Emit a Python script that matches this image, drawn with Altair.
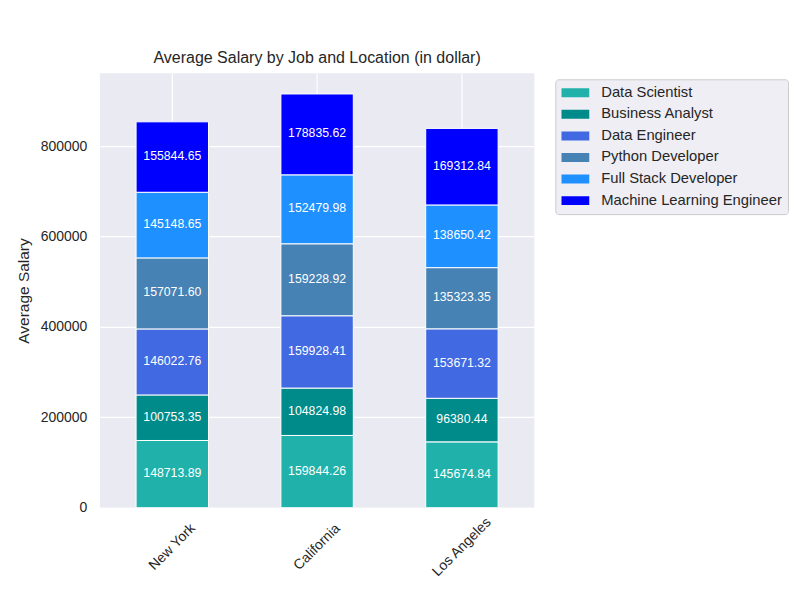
import altair as alt
import pandas as pd

locations = ["New York", "California", "Los Angeles"]
jobs = ["Data Scientist", "Business Analyst", "Data Engineer",
        "Python Developer", "Full Stack Developer", "Machine Learning Engineer"]
colors = ["#20B2AA", "#008B8B", "#4169E1", "#4682B4", "#1E90FF", "#0000FF"]

data_scientist = [148713.89, 159844.26, 145674.84]
business_analyst = [100753.35, 104824.98, 96380.44]
data_engineer = [146022.76, 159928.41, 153671.32]
python_developer = [157071.60, 159228.92, 135323.35]
full_stack_developer = [145148.65, 152479.98, 138650.42]
ml_engineer = [155844.65, 178835.62, 169312.84]

series = [data_scientist, business_analyst, data_engineer,
          python_developer, full_stack_developer, ml_engineer]

rows = []
for j, (job, vals) in enumerate(zip(jobs, series)):
    for loc, v in zip(locations, vals):
        rows.append({"location": loc, "job": job, "idx": j, "salary": v})
df = pd.DataFrame(rows)

totals = df.groupby("location")["salary"].sum()
ymax = float(totals.max()) * 1.05

FONT = "Liberation Sans"
TXT = "#262626"

base = alt.Chart(df).transform_stack(
    stack="salary", as_=["y0", "y1"], groupby=["location"],
    sort=[alt.SortField("idx", order="ascending")]
).transform_calculate(mid="(datum.y0 + datum.y1) / 2")

x_enc = alt.X("location:N", sort=locations, title=None,
              scale=alt.Scale(paddingInner=0.5, paddingOuter=0.25),
              axis=alt.Axis(grid=True, gridColor="white", gridWidth=1.2,
                            ticks=False, domain=False, labelAngle=-45,
                            labelAlign="center", labelBaseline="middle",
                            labelPadding=39, labelFontSize=14, labelFont=FONT,
                            labelColor=TXT))

bars = base.mark_bar(stroke="white", strokeWidth=1).encode(
    x=x_enc,
    y=alt.Y("y0:Q", title="Average Salary",
            scale=alt.Scale(domain=[0, ymax], nice=False, zero=True),
            axis=alt.Axis(values=[0, 200000, 400000, 600000, 800000], format="d",
                          grid=True, gridColor="white", gridWidth=1.2,
                          ticks=False, domain=False, labelPadding=13,
                          labelFontSize=14, labelFont=FONT, labelColor=TXT,
                          titleFontSize=15.5, titleFont=FONT, titleColor=TXT,
                          titleFontWeight="normal", titlePadding=9)),
    y2="y1:Q",
    color=alt.Color("job:N", sort=jobs,
                    scale=alt.Scale(domain=jobs, range=colors),
                    legend=alt.Legend(
                        title=None, orient="none", legendX=456, legendY=6,
                        symbolType="M-1,-0.32L1,-0.32L1,0.32L-1,0.32Z",
                        symbolSize=784, symbolStrokeWidth=0, clipHeight=15,
                        rowPadding=5.6, labelOffset=12, labelFontSize=14.8,
                        labelFont=FONT, labelColor=TXT, padding=6,
                        fillColor="#EEEEF4", strokeColor="#CCCCCC",
                        cornerRadius=3, labelLimit=300)),
    order=alt.Order("idx:Q", sort="ascending"),
)

labels = base.mark_text(color="white", fontSize=12.3, font=FONT,
                        baseline="middle", align="center", dy=-1).encode(
    x=alt.X("location:N", sort=locations),
    y=alt.Y("mid:Q"),
    text=alt.Text("salary:Q", format=".2f"),
)

chart = alt.layer(bars, labels).properties(
    width=435, height=435,
    title=alt.TitleParams("Average Salary by Job and Location (in dollar)",
                          fontSize=16, font=FONT, color=TXT, fontWeight="normal",
                          anchor="middle", frame="group", offset=5,
                          baseline="bottom", dy=14),
    autosize=alt.AutoSizeParams(type="none"),
    padding={"left": 92, "top": 65, "right": 258, "bottom": 80},
).configure(background="white").configure_view(fill="#EAEAF2", stroke=None)

chart.save("out.html", embed_options={"renderer": "svg", "actions": False})
